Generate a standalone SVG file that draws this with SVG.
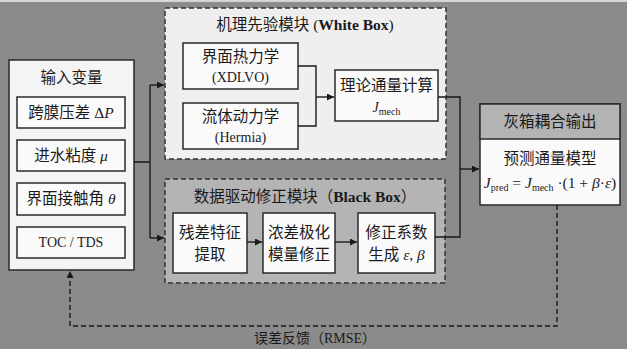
<svg xmlns="http://www.w3.org/2000/svg" width="627" height="349" viewBox="0 0 627 349">
<defs>
<marker id="ah" viewBox="0 0 10 10" refX="10" refY="5" markerWidth="7" markerHeight="7" markerUnits="userSpaceOnUse" orient="auto">
<path d="M0,0 L10,5 L0,10 z" fill="#1a1a1a"/>
</marker>
<style>
.t{font-family:"Liberation Serif","Noto Sans CJK SC",serif;fill:#1a1a1a;text-anchor:middle}
.f15{font-size:15.5px}
.f14{font-size:14px}
.box{fill:#fafafa;stroke:#2a2a2a;stroke-width:1.5}
.dash{stroke:#333;stroke-width:1.5;stroke-dasharray:5 3}
.ln{fill:none;stroke:#1a1a1a;stroke-width:1.4}
.i{font-style:italic}
.b{font-weight:bold}
</style>
</defs>
<rect x="0" y="0" width="627" height="349" fill="#8b8b8b"/>
<rect x="0" y="0" width="627" height="2" fill="#d8d8d8"/>

<g id="inputs">
<rect x="9" y="60" width="125" height="210" fill="#f4f4f4" stroke="#2a2a2a" stroke-width="1.5"/>
<text class="t f15" x="71.5" y="83">输入变量</text>
<rect class="box" x="17" y="97" width="108" height="31"/>
<text class="t f15" x="71" y="118">跨膜压差 Δ<tspan class="i">P</tspan></text>
<rect class="box" x="17" y="140" width="108" height="31"/>
<text class="t f15" x="71" y="161">进水粘度 <tspan class="i">μ</tspan></text>
<rect class="box" x="17" y="183" width="108" height="32"/>
<text class="t f15" x="71" y="204">界面接触角 <tspan class="i">θ</tspan></text>
<rect class="box" x="17" y="227" width="108" height="31"/>
<text class="t f14" x="71" y="247">TOC / TDS</text>
</g>

<g id="whitebox">
<rect x="165" y="8" width="281" height="151" fill="#efefef" class="dash"/>
<text class="t f15" x="305" y="30">机理先验模块 (<tspan class="b">White Box</tspan>)</text>
</g>
<g id="xdlvo">
<rect class="box" x="183" y="43" width="115" height="46"/>
<text class="t f15" x="240.5" y="62">界面热力学</text>
<text class="t f14" x="240.5" y="82">(XDLVO)</text>
</g>
<g id="hermia">
<rect class="box" x="183" y="103" width="115" height="46"/>
<text class="t f15" x="240.5" y="122">流体动力学</text>
<text class="t f14" x="240.5" y="142">(Hermia)</text>
</g>
<g id="jmech">
<rect class="box" x="335" y="70" width="103" height="51"/>
<text class="t f15" x="386.5" y="91">理论通量计算</text>
<text class="t f14" x="386.5" y="112"><tspan class="i">J</tspan><tspan font-size="10" dy="3">mech</tspan></text>
</g>

<g id="blackbox">
<rect x="165" y="179" width="280" height="104" fill="#b4b4b4" class="dash"/>
<text class="t f15" x="305" y="202">数据驱动修正模块（<tspan class="b">Black Box</tspan>）</text>
</g>
<g id="residual">
<rect class="box" x="173" y="213" width="74" height="60"/>
<text class="t f15" x="210" y="238">残差特征</text>
<text class="t f15" x="210" y="260">提取</text>
</g>
<g id="polar">
<rect class="box" x="263" y="213" width="72" height="60"/>
<text class="t f15" x="299" y="238">浓差极化</text>
<text class="t f15" x="299" y="260">模量修正</text>
</g>
<g id="coef">
<rect class="box" x="358" y="213" width="77" height="60"/>
<text class="t f15" x="396.5" y="238">修正系数</text>
<text class="t f15" x="396.5" y="260">生成 <tspan class="i">ε</tspan>, <tspan class="i">β</tspan></text>
</g>

<g id="output">
<rect x="480" y="104" width="140" height="101" fill="#fafafa" stroke="#2a2a2a" stroke-width="1.5"/>
<rect x="480" y="104" width="140" height="35" fill="#b3b3b3" stroke="#2a2a2a" stroke-width="1.5"/>
<text class="t f15" x="550" y="127">灰箱耦合输出</text>
<text class="t f15" x="550" y="164">预测通量模型</text>
<text class="t" font-size="15.5" x="550" y="188"><tspan class="i">J</tspan><tspan font-size="10" dy="3">pred</tspan><tspan dy="-3"> = </tspan><tspan class="i">J</tspan><tspan font-size="10" dy="3">mech</tspan><tspan dy="-3"> ·(1 + </tspan><tspan class="i">β</tspan>·<tspan class="i">ε</tspan>)</text>
</g>

<g id="connectors">
<path class="ln" d="M134,162 H150 M150,85 V238"/>
<path class="ln" d="M150,85 H164" marker-end="url(#ah)"/>
<path class="ln" d="M150,238 H164" marker-end="url(#ah)"/>
<path class="ln" d="M298,66 H316 V126 H298"/>
<path class="ln" d="M316,97 H334" marker-end="url(#ah)"/>
<path class="ln" d="M247,242 H262" marker-end="url(#ah)"/>
<path class="ln" d="M335,242 H357" marker-end="url(#ah)"/>
<path class="ln" d="M438,97 H460 V237 H435"/>
<path class="ln" d="M460,169 H479" marker-end="url(#ah)"/>
<path class="ln" d="M557,205 V326 H70 V271" stroke-dasharray="5 3" marker-end="url(#ah)"/>
<text class="t f14" x="315" y="343">误差反馈（RMSE）</text>
</g>
</svg>
